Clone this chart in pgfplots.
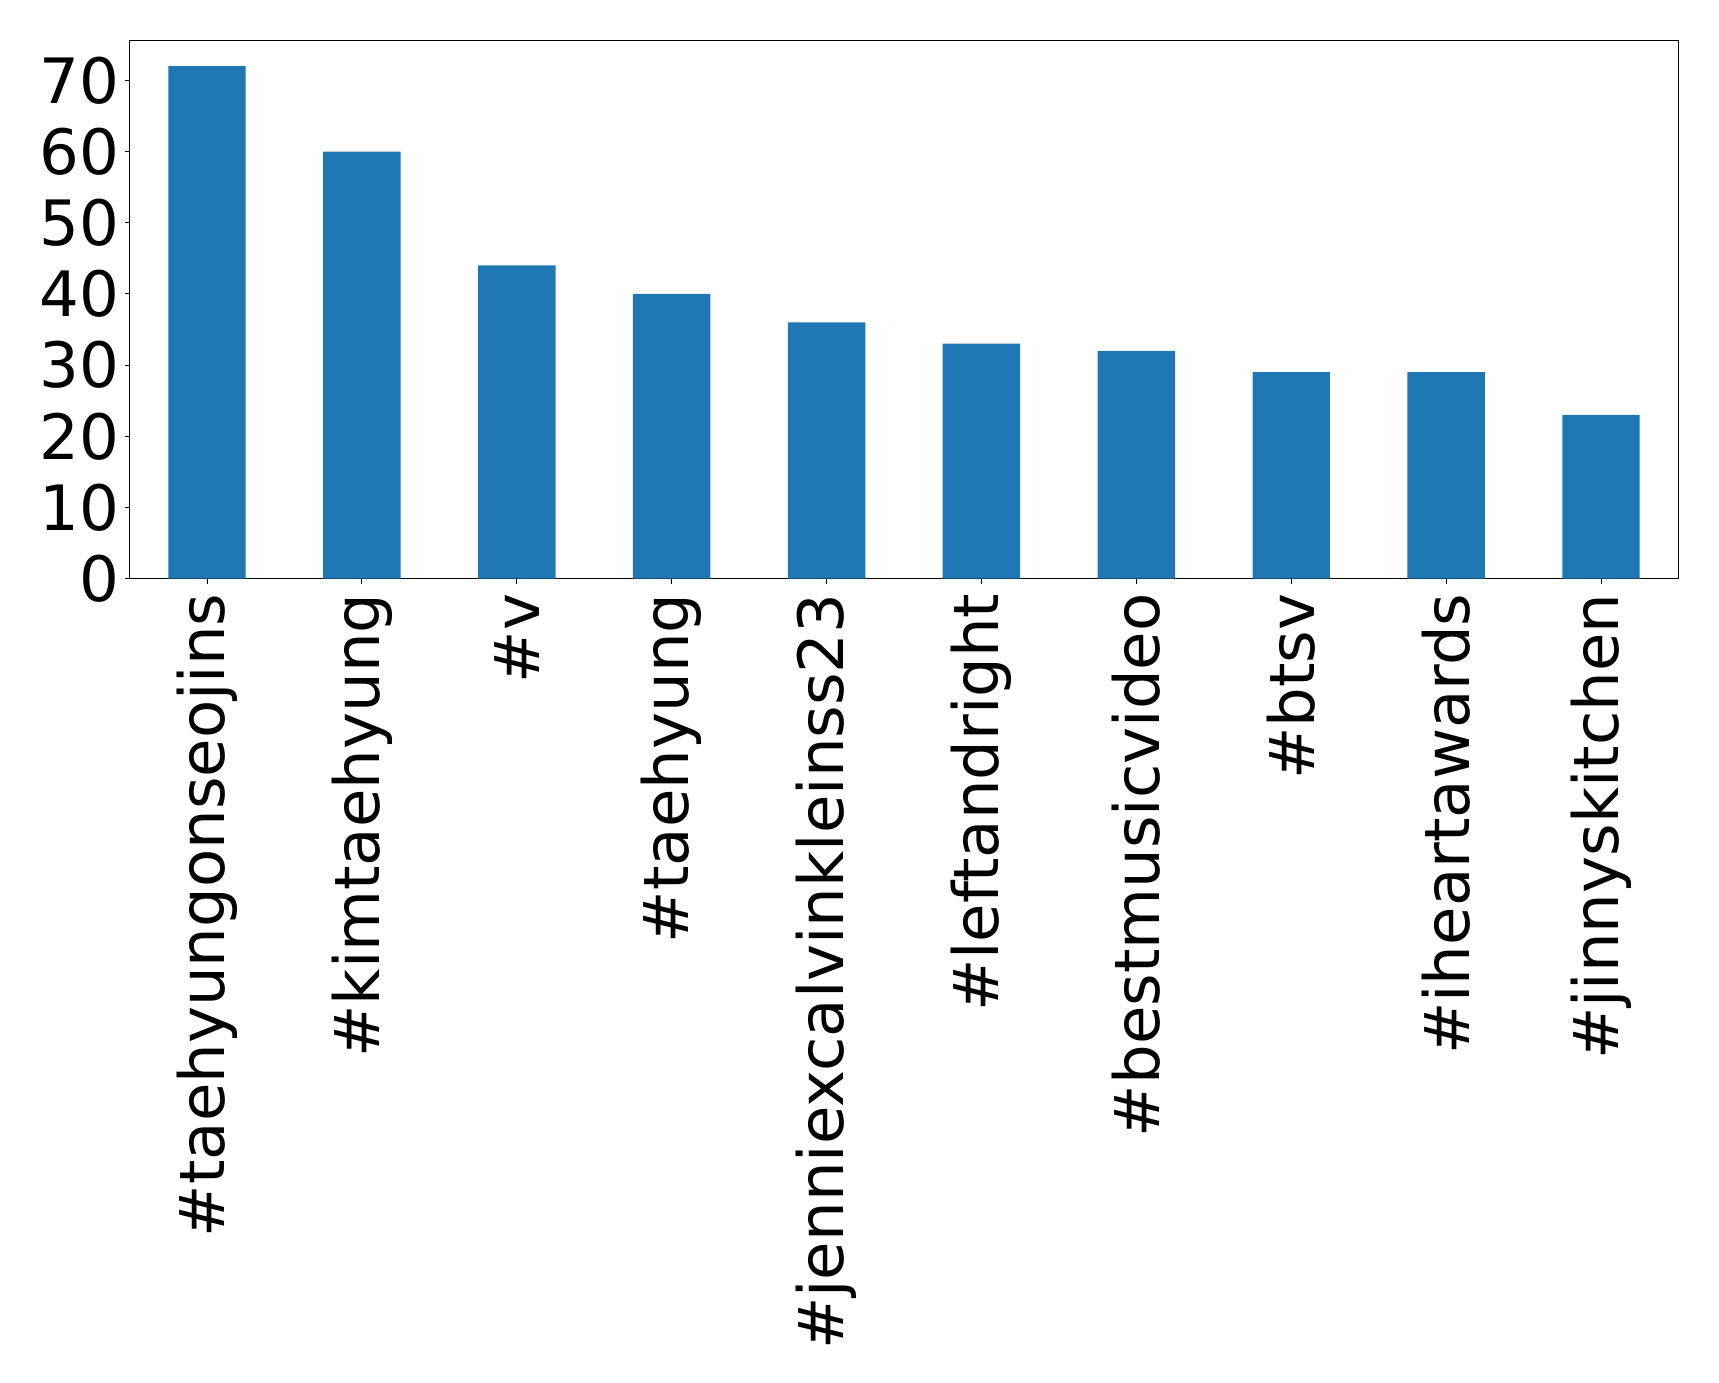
\documentclass[border=0pt]{standalone}
\usepackage{fontspec}
\setmainfont{DejaVu Sans}
\usepackage{pgfplots}
\pgfplotsset{compat=1.18}
\definecolor{barblue}{HTML}{1F77B4}
\begin{document}
\begin{tikzpicture}
\begin{axis}[
  scale only axis,
  width=775pt, height=269.2pt,
  xmin=-0.5, xmax=9.5, ymin=0, ymax=75.6,
  xtick={0,...,9},
  xticklabels={\#taehyungonseojins,\#kimtaehyung,\#v,\#taehyung,\#jenniexcalvinkleinss23,\#leftandright,\#bestmusicvideo,\#btsv,\#iheartawards,\#jinnyskitchen},
  ytick={0,10,...,70},
  tick align=outside,
  major tick length=2.5pt,
  tick style={black, line width=0.5pt},
  axis line style={line width=0.6pt},
  xtick pos=bottom, ytick pos=left,
  /pgf/number format/assume math mode=true,
  ticklabel style={font=\fontsize{31.3}{36}\selectfont},
  xticklabel shift=5pt,
  xticklabel style={rotate=90, anchor=east, inner sep=0pt, outer sep=0pt},
  yticklabel style={anchor=east, inner sep=0pt, outer sep=0pt, xshift=-2.5pt},
]
\addplot[ybar, bar width=0.5, fill=barblue, draw=none] coordinates {
(0,72) (1,60) (2,44) (3,40) (4,36) (5,33) (6,32) (7,29) (8,29) (9,23)
};
\end{axis}
\path ([shift={(-20pt,-16.5pt)}]current bounding box.south west) rectangle ([shift={(20pt,20pt)}]current bounding box.north east);
\end{tikzpicture}
\end{document}
